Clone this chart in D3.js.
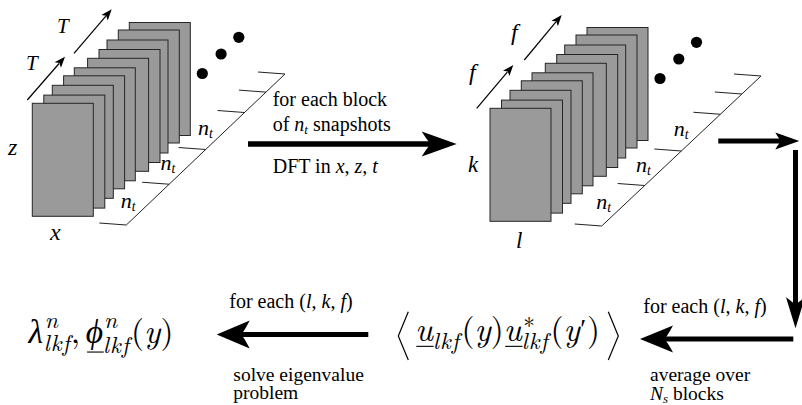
<!DOCTYPE html>
<html><head><meta charset="utf-8">
<script src="https://cdn.jsdelivr.net/npm/d3@7"></script>
<style>html,body{margin:0;padding:0;background:#fff;overflow:hidden}</style>
</head><body>
<svg id="c" width="802" height="405"></svg>
<script>
// ---------- data ----------
const plateDx = [0, 11.5, 20, 31.3, 42, 55.3, 66.7, 74.7, 86, 97];
const plateDy = [0, -8.2, -18, -27.5, -35.5, -45, -53.8, -63.3, -73.3, -80.8];
const dotDx = [170, 188.8, 206.5];
const dotDy = [-29.8, -49.3, -66];
const tickFractions = [0, 0.27, 0.5, 0.745, 0.88, 1];
const blockMidFractions = [0.135, 0.385, 0.6225];
const stackOrigins = [[32.3, 103.3], [490, 108.3]];
const ladders = [[126.3, 225, 285, 74], [601.7, 226, 761, 76]];
const leftAxisLabels = [["T", 57, 33.3, 21], ["T", 26, 70, 21], ["z", 8, 155, 24], ["x", 50, 240, 24]];
const rightAxisLabels = [["f", 511, 40, 24], ["f", 469, 80, 24], ["k", 468, 171.7, 23], ["l", 516, 248, 23]];
const topText = ["for each block", "of ", " snapshots", "DFT in ", "x", ", ", "z", ", ", "t"];
const loopText = ["for each (", "l", ", ", "k", ", ", "f", ")"];

const TEXTF = '"Liberation Serif", serif';
const MATHF = '"Latin Modern Roman", "Liberation Serif", serif';
const GREEKF = '"Liberation Serif", "DejaVu Serif", serif';
const svg = d3.select('#c');
const g = svg.append('g');

// ---------- plate stacks ----------
stackOrigins.forEach(([ox, oy]) => {
  const idx = d3.range(plateDx.length).reverse();
  g.append('g').selectAll('rect').data(idx).join('rect')
    .attr('x', i => ox + plateDx[i]).attr('y', i => oy + plateDy[i])
    .attr('width', 61).attr('height', 113)
    .attr('fill', '#9a9a9a').attr('stroke', '#262626').attr('stroke-width', 1);
  g.append('g').selectAll('circle').data(d3.range(dotDx.length)).join('circle')
    .attr('cx', i => ox + dotDx[i]).attr('cy', i => oy + dotDy[i]).attr('r', 5.6).attr('fill', '#000');
});

function styled(sel, fs, italic, fam) {
  return sel.style('font-family', fam || TEXTF).style('font-size', fs + 'px')
    .style('font-style', italic ? 'italic' : 'normal').attr('fill', '#000');
}

// ---------- ladders ----------
function nt(x, y, fs) {
  const t = styled(g.append('text').attr('x', x).attr('y', y), fs, true);
  t.append('tspan').text('n');
  t.append('tspan').style('font-size', (fs * 0.62) + 'px').attr('dy', 3).text('t');
}
ladders.forEach(([x0, y0, x1, y1]) => {
  const sx = d3.scaleLinear().domain([0, 1]).range([x0, x1]);
  const sy = d3.scaleLinear().domain([0, 1]).range([y0, y1]);
  g.append('line').attr('x1', x0).attr('y1', y0).attr('x2', x1).attr('y2', y1)
    .attr('stroke', '#222').attr('stroke-width', 1);
  g.append('g').selectAll('line').data(tickFractions).join('line')
    .attr('x1', f => sx(f) - 27).attr('y1', f => sy(f) - 2)
    .attr('x2', f => sx(f)).attr('y2', f => sy(f))
    .attr('stroke', '#222').attr('stroke-width', 1);
  blockMidFractions.forEach(f => nt(sx(f) - 27, sy(f) + 3.5, 22));
});

// ---------- axis labels ----------
leftAxisLabels.concat(rightAxisLabels).forEach(([s, x, y, fs]) => {
  styled(g.append('text').attr('x', x).attr('y', y), fs, true).text(s);
});

// ---------- arrows ----------
function thinArrow(x1, y1, x2, y2) {
  const L = Math.hypot(x2 - x1, y2 - y1), ux = (x2 - x1) / L, uy = (y2 - y1) / L;
  const hl = 11, hw = 4.2;
  const bx = x2 - ux * hl, by = y2 - uy * hl;
  g.append('line').attr('x1', x1).attr('y1', y1).attr('x2', bx + ux * 2).attr('y2', by + uy * 2)
    .attr('stroke', '#000').attr('stroke-width', 1.2);
  g.append('path').attr('d', `M${x2},${y2}L${bx - uy * hw},${by + ux * hw}L${bx + ux * 2.5},${by + uy * 2.5}L${bx + uy * hw},${by - ux * hw}Z`)
    .attr('fill', '#000');
}
function thickArrow(x1, y1, x2, y2, hl, hw, w) {
  const L = Math.hypot(x2 - x1, y2 - y1), ux = (x2 - x1) / L, uy = (y2 - y1) / L;
  const bx = x2 - ux * hl, by = y2 - uy * hl;
  const nx = x2 - ux * hl * 0.72, ny = y2 - uy * hl * 0.72;
  g.append('line').attr('x1', x1).attr('y1', y1).attr('x2', nx).attr('y2', ny)
    .attr('stroke', '#000').attr('stroke-width', w);
  g.append('path').attr('d', `M${x2},${y2}L${bx - uy * hw},${by + ux * hw}Q${nx - ux * 2},${ny - uy * 2} ${nx},${ny}Q${nx - ux * 2},${ny - uy * 2} ${bx + uy * hw},${by - ux * hw}Z`)
    .attr('fill', '#000');
}
thinArrow(27.3, 100, 65, 56.7);
thinArrow(74, 53.3, 111.7, 9.3);
thinArrow(476.7, 108.3, 513.3, 65);
thinArrow(524.3, 60, 561.7, 15);

thickArrow(248, 144, 456.7, 144, 35, 12.5, 5.5);
thickArrow(718.3, 141, 799.3, 141, 24, 8.5, 5);
thickArrow(795.5, 150, 795.5, 328.3, 31, 9.5, 5);
thickArrow(793.3, 339, 640, 339, 33, 13.5, 5);
thickArrow(368.3, 334.5, 216.7, 334.5, 33, 14, 5);

// ---------- texts ----------
function txt(x, y, fs) { return styled(g.append('text').attr('x', x).attr('y', y), fs, false); }
function sp(t, s, italic, fs, dy) {
  const e = t.append('tspan').style('font-style', italic ? 'italic' : 'normal').text(s);
  if (fs) e.style('font-size', fs + 'px');
  if (dy) e.attr('dy', dy);
  return e;
}
txt(272.7, 106, 20).text(topText[0]);
{
  const t = txt(272.7, 130.5, 20);
  sp(t, topText[1]); sp(t, 'n', true); sp(t, 't', true, 13, 3); sp(t, topText[2], false, 20, -3);
}
{
  const t = txt(272.7, 172.5, 20);
  topText.slice(3).forEach((s, i) => sp(t, s, i % 2 === 1));
}
function loop(x, y) {
  const t = txt(x, y, 20);
  loopText.forEach((s, i) => sp(t, s, i % 2 === 1));
}
loop(229.3, 307.5);
loop(643.3, 313.3);
txt(233.3, 380.5, 19.5).text('solve eigenvalue');
txt(233.3, 398.5, 19.5).text('problem');
txt(650, 381.2, 19.5).text('average over');
{
  const t = txt(650, 399.5, 19.5);
  sp(t, 'N', true); sp(t, 's', true, 13, 3); sp(t, ' blocks', false, 19.5, -3);
}

// ---------- math ----------
function put(parent, x, y, p, k) {
  const t = parent.append('text').attr('x', x).attr('y', y).text(p.t);
  styled(t, (p.fs || 1) * k, p.it, p.gr ? GREEKF : MATHF);
  if (p.ls) t.style('letter-spacing', (p.ls * k) + 'px');
  return t.node().getComputedTextLength();
}
function mathRow(parent, x0, y0, items, k) {
  let x = x0;
  items.forEach(it => {
    if (it.stack) {
      let w = 0;
      it.stack.forEach(p => { w = Math.max(w, put(parent, x + (p.dx || 0) * k, y0 + p.dy * k, p, k) + (p.dx || 0) * k); });
      x += w + (it.gap || 0) * k;
    } else {
      const w = put(parent, x, y0 + (it.dy || 0) * k, it, k);
      if (it.ul) parent.append('line').attr('x1', x + 0.04 * k).attr('x2', x + w + 0.02 * k)
        .attr('y1', y0 + it.ul * k).attr('y2', y0 + it.ul * k)
        .attr('stroke', '#000').attr('stroke-width', 1.1);
      x += w + (it.gap || 0) * k;
    }
  });
  return x - x0;
}
function fitRow(x0, y0, width, items) {
  const tmp = g.append('g');
  const w = mathRow(tmp, x0, y0, items, 25);
  tmp.remove();
  const k = 25 * width / w;
  mathRow(g.append('g'), x0, y0, items, k);
}
const S = 0.7;
const sup = (t) => ({ t, it: 1, fs: S, dy: -0.44, dx: 0.03 });
const sub = (t, dy) => ({ t, it: 1, fs: S, dy: dy || 0.24, ls: 0.03 });
fitRow(28.5, 343, 145, [
  { t: 'λ', it: 1, gr: 1, gap: 0.02 },
  { stack: [sup('n'), sub('lkf')] },
  { t: ',', gap: 0.17 },
  { t: 'ϕ', it: 1, gr: 1, ul: 0.27 },
  { stack: [sup('n'), sub('lkf', 0.3)], gap: 0.03 },
  { t: '(' }, { t: 'y', it: 1 }, { t: ')' }
]);
fitRow(415, 341, 185, [
  { t: 'u', it: 1, ul: 0.16 },
  { stack: [sub('lkf')], gap: 0.05 },
  { t: '(' }, { t: 'y', it: 1 }, { t: ')' },
  { t: 'u', it: 1, ul: 0.16 },
  { stack: [{ t: '∗', fs: S, dy: -0.4, dx: 0.04 }, sub('lkf')], gap: 0.05 },
  { t: '(' }, { t: 'y', it: 1, gap: 0.02 }, { t: '′', gr: 1, fs: 0.8, dy: -0.08, gap: 0.02 }, { t: ')' }
]);
// angle-bracket delimiters
g.append('path').attr('d', 'M408.3,311.7L398.3,336L408.3,360').attr('fill', 'none').attr('stroke', '#000').attr('stroke-width', 1.2);
g.append('path').attr('d', 'M608.3,311.7L618.3,336L608.3,360').attr('fill', 'none').attr('stroke', '#000').attr('stroke-width', 1.2);
</script>
</body></html>
